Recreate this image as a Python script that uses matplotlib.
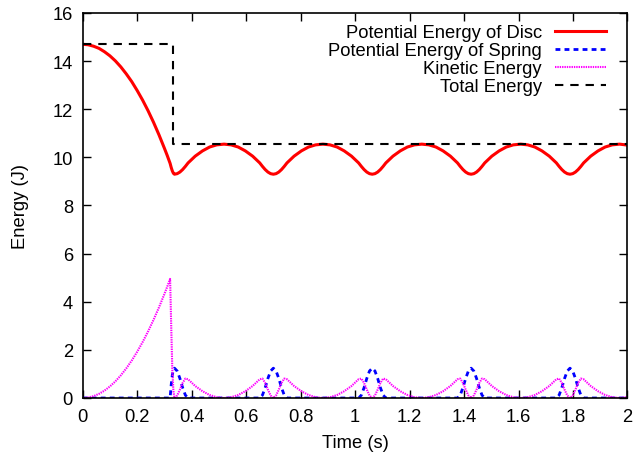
import matplotlib
matplotlib.use("Agg")
import matplotlib.pyplot as plt

plt.rcParams["font.family"] = ["Liberation Sans", "DejaVu Sans"]
plt.rcParams["lines.scale_dashes"] = False

# Time samples (s)
time = [
    0.00, 0.02, 0.04, 0.06, 0.08, 0.10, 0.12, 0.14, 0.16, 0.18, 0.20, 0.22,
    0.24, 0.26, 0.28, 0.30, 0.31,
    0.321, 0.325, 0.329, 0.333, 0.337,
    0.347, 0.357, 0.367, 0.377, 0.387,
    0.413, 0.440, 0.466, 0.492, 0.519, 0.545, 0.571, 0.597, 0.624, 0.650,
    0.660, 0.670, 0.680, 0.690, 0.700, 0.710, 0.720, 0.730, 0.740, 0.750,
    0.776, 0.803, 0.829, 0.855, 0.882, 0.908, 0.934, 0.960, 0.987, 1.013,
    1.023, 1.033, 1.043, 1.053, 1.063, 1.073, 1.083, 1.093, 1.103, 1.113,
    1.139, 1.166, 1.192, 1.218, 1.245, 1.271, 1.297, 1.323, 1.350, 1.376,
    1.386, 1.396, 1.406, 1.416, 1.426, 1.436, 1.446, 1.456, 1.466, 1.476,
    1.502, 1.529, 1.555, 1.581, 1.608, 1.634, 1.660, 1.686, 1.713, 1.739,
    1.749, 1.759, 1.769, 1.779, 1.789, 1.799, 1.809, 1.819, 1.829, 1.839,
    1.865, 1.892, 1.918, 1.944, 1.971, 2.000,
]

# Potential energy of the disc (J)
pe_disc = [
    14.70, 14.68, 14.62, 14.53, 14.39, 14.22, 14.01, 13.76, 13.47, 13.15, 12.78, 12.38,
    11.94, 11.46, 10.94, 10.38, 10.09,
    9.75, 9.58, 9.44, 9.34, 9.30,
    9.323, 9.390, 9.494, 9.625, 9.77,
    10.05, 10.27, 10.43, 10.52, 10.55, 10.52, 10.43, 10.27, 10.05, 9.77,
    9.625, 9.494, 9.390, 9.323, 9.30, 9.323, 9.390, 9.494, 9.625, 9.77,
    10.05, 10.27, 10.43, 10.52, 10.55, 10.52, 10.43, 10.27, 10.05, 9.77,
    9.625, 9.494, 9.390, 9.323, 9.30, 9.323, 9.390, 9.494, 9.625, 9.77,
    10.05, 10.27, 10.43, 10.52, 10.55, 10.52, 10.43, 10.27, 10.05, 9.77,
    9.625, 9.494, 9.390, 9.323, 9.30, 9.323, 9.390, 9.494, 9.625, 9.77,
    10.05, 10.27, 10.43, 10.52, 10.55, 10.52, 10.43, 10.27, 10.05, 9.77,
    9.625, 9.494, 9.390, 9.323, 9.30, 9.323, 9.390, 9.494, 9.625, 9.77,
    10.05, 10.27, 10.43, 10.52, 10.55, 10.51,
]

# Potential energy stored in the spring (J)
pe_spring = [
    0, 0, 0, 0, 0, 0, 0, 0, 0, 0, 0, 0,
    0, 0, 0, 0, 0,
    0.0, 0.55, 0.95, 1.18, 1.24,
    1.121, 0.812, 0.429, 0.118, 0.0,
    0, 0, 0, 0, 0, 0, 0, 0, 0, 0,
    0.118, 0.429, 0.812, 1.121, 1.24, 1.121, 0.812, 0.429, 0.118, 0.0,
    0, 0, 0, 0, 0, 0, 0, 0, 0, 0,
    0.118, 0.429, 0.812, 1.121, 1.24, 1.121, 0.812, 0.429, 0.118, 0.0,
    0, 0, 0, 0, 0, 0, 0, 0, 0, 0,
    0.118, 0.429, 0.812, 1.121, 1.24, 1.121, 0.812, 0.429, 0.118, 0.0,
    0, 0, 0, 0, 0, 0, 0, 0, 0, 0,
    0.118, 0.429, 0.812, 1.121, 1.24, 1.121, 0.812, 0.429, 0.118, 0.0,
    0, 0, 0, 0, 0, 0,
]

# Kinetic energy of the disc (J)
kinetic = [
    0.0, 0.019, 0.077, 0.173, 0.307, 0.48, 0.691, 0.941, 1.229, 1.555, 1.92, 2.323,
    2.765, 3.245, 3.763, 4.32, 4.613,
    4.95, 3.0, 1.2, 0.3, 0.0,
    0.106, 0.348, 0.627, 0.807, 0.78,
    0.499, 0.281, 0.125, 0.031, 0.0, 0.031, 0.125, 0.281, 0.499, 0.78,
    0.807, 0.627, 0.348, 0.106, 0.0, 0.106, 0.348, 0.627, 0.807, 0.78,
    0.499, 0.281, 0.125, 0.031, 0.0, 0.031, 0.125, 0.281, 0.499, 0.78,
    0.807, 0.627, 0.348, 0.106, 0.0, 0.106, 0.348, 0.627, 0.807, 0.78,
    0.499, 0.281, 0.125, 0.031, 0.0, 0.031, 0.125, 0.281, 0.499, 0.78,
    0.807, 0.627, 0.348, 0.106, 0.0, 0.106, 0.348, 0.627, 0.807, 0.78,
    0.499, 0.281, 0.125, 0.031, 0.0, 0.031, 0.125, 0.281, 0.499, 0.78,
    0.807, 0.627, 0.348, 0.106, 0.0, 0.106, 0.348, 0.627, 0.807, 0.78,
    0.499, 0.281, 0.125, 0.031, 0.0, 0.039,
]

# Total mechanical energy: drops at the impact
total_time = [0.0, 0.331, 0.331, 2.0]
total_energy = [14.7, 14.7, 10.55, 10.55]

x_ticks = [0, 0.2, 0.4, 0.6, 0.8, 1.0, 1.2, 1.4, 1.6, 1.8, 2.0]
x_tick_labels = ["0", "0.2", "0.4", "0.6", "0.8", "1", "1.2", "1.4", "1.6", "1.8", "2"]
y_ticks = [0, 2, 4, 6, 8, 10, 12, 14, 16]

FS = 13.2

fig = plt.figure(figsize=(6.34, 4.56), dpi=100)
ax = fig.add_axes([0.1304, 0.125, 0.8593, 0.8443])

ax.plot(time, pe_disc, color="#ff0000", lw=2.2, label="Potential Energy of Disc")
ax.plot(time, pe_spring, color="#0000ff", lw=2.0, dashes=(3.5, 3.0),
        label="Potential Energy of Spring")
ax.plot(time, kinetic, color="#ff00ff", lw=1.5, dashes=(1.0, 0.7),
        label="Kinetic Energy")
ax.plot(total_time, total_energy, color="black", lw=1.5, dashes=(6.0, 5.0),
        label="Total Energy")

ax.set_xlim(0, 2)
ax.set_ylim(0, 16)
ax.set_xticks(x_ticks)
ax.set_xticklabels(x_tick_labels)
ax.set_yticks(y_ticks)
ax.tick_params(direction="in", length=6, width=1.0, top=True, right=True,
               labelsize=FS, pad=7)
for s in ax.spines.values():
    s.set_linewidth(1.2)

ax.set_xlabel("Time (s)", fontsize=FS)
ax.set_ylabel("Energy (J)", fontsize=FS)
ax.xaxis.set_label_coords(0.5, -0.115)
ax.yaxis.set_label_coords(-0.115, 0.5)
ax.xaxis.label.set_va("center")
ax.yaxis.label.set_va("center")

leg = ax.legend(loc="upper right", bbox_to_anchor=(0.9614, 0.971),
                frameon=False, markerfirst=False, fontsize=FS,
                handlelength=2.8, handletextpad=0.72, labelspacing=0.06,
                borderpad=0.0, borderaxespad=0.0)
for t in leg.get_texts():
    t.set_ha("right")

fig.savefig("out.png", dpi=100)
